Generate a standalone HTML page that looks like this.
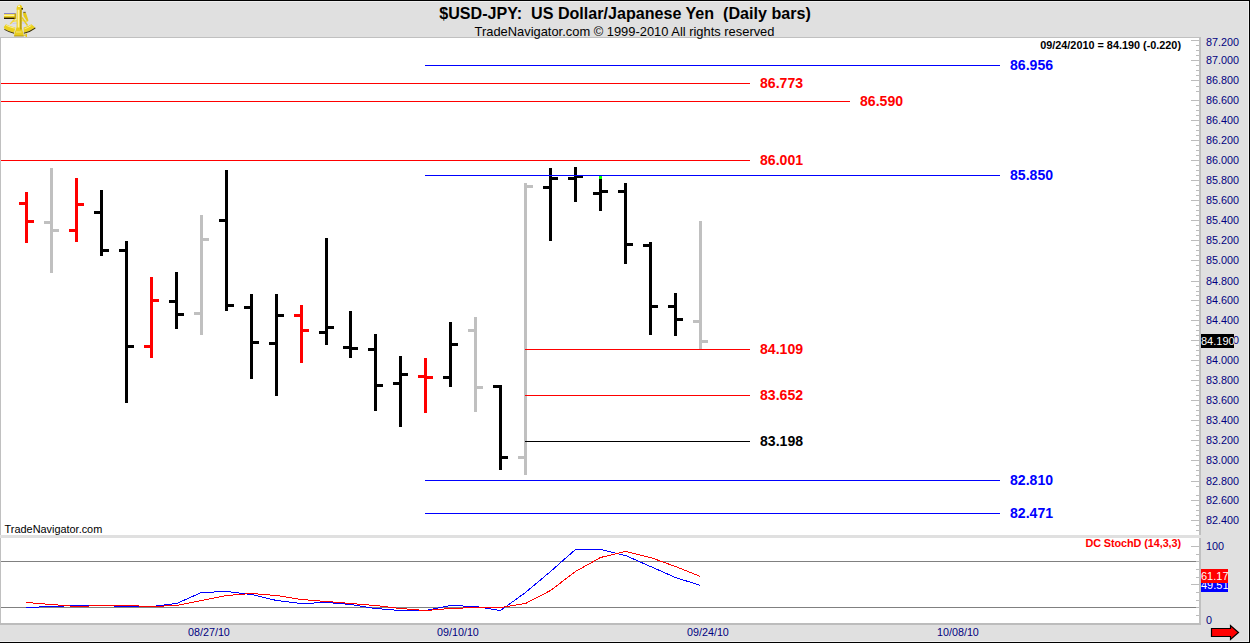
<!DOCTYPE html>
<html><head><meta charset="utf-8"><style>
html,body{margin:0;padding:0;width:1250px;height:643px;overflow:hidden;background:#e0e0e0}
.t{position:absolute;font-family:"Liberation Sans",sans-serif;white-space:pre;line-height:17px}
</style></head><body>
<svg style="position:absolute;left:0;top:0" width="1250" height="643" shape-rendering="crispEdges">
<rect x="0" y="0" width="1250" height="643" fill="#e0e0e0"/>
<rect x="0" y="1" width="1249" height="1" fill="#efefef"/>
<rect x="0" y="641" width="1249" height="1" fill="#efefef"/>
<rect x="1248" y="1" width="1" height="641" fill="#efefef"/>
<rect x="0" y="0" width="1250" height="1" fill="#000"/>
<rect x="0" y="642" width="1250" height="1" fill="#000"/>
<rect x="1249" y="0" width="1" height="643" fill="#000"/>
<rect x="0" y="37" width="1201" height="498" fill="#c0c0c0"/>
<rect x="1" y="38" width="1198" height="497" fill="#ffffff"/>
<rect x="0" y="538" width="1201" height="87" fill="#c0c0c0"/>
<rect x="1" y="538" width="1198" height="85" fill="#ffffff"/>
<rect x="0" y="623" width="1201" height="2" fill="#bcbcbc"/>
<rect x="1191" y="40" width="8" height="1" fill="#bcbcbc"/>
<rect x="1191" y="60" width="8" height="1" fill="#bcbcbc"/>
<rect x="1191" y="80" width="8" height="1" fill="#bcbcbc"/>
<rect x="1191" y="100" width="8" height="1" fill="#bcbcbc"/>
<rect x="1191" y="120" width="8" height="1" fill="#bcbcbc"/>
<rect x="1191" y="140" width="8" height="1" fill="#bcbcbc"/>
<rect x="1191" y="160" width="8" height="1" fill="#bcbcbc"/>
<rect x="1191" y="180" width="8" height="1" fill="#bcbcbc"/>
<rect x="1191" y="200" width="8" height="1" fill="#bcbcbc"/>
<rect x="1191" y="220" width="8" height="1" fill="#bcbcbc"/>
<rect x="1191" y="240" width="8" height="1" fill="#bcbcbc"/>
<rect x="1191" y="260" width="8" height="1" fill="#bcbcbc"/>
<rect x="1191" y="281" width="8" height="1" fill="#bcbcbc"/>
<rect x="1191" y="300" width="8" height="1" fill="#bcbcbc"/>
<rect x="1191" y="320" width="8" height="1" fill="#bcbcbc"/>
<rect x="1191" y="340" width="8" height="1" fill="#bcbcbc"/>
<rect x="1191" y="360" width="8" height="1" fill="#bcbcbc"/>
<rect x="1191" y="380" width="8" height="1" fill="#bcbcbc"/>
<rect x="1191" y="400" width="8" height="1" fill="#bcbcbc"/>
<rect x="1191" y="420" width="8" height="1" fill="#bcbcbc"/>
<rect x="1191" y="440" width="8" height="1" fill="#bcbcbc"/>
<rect x="1191" y="460" width="8" height="1" fill="#bcbcbc"/>
<rect x="1191" y="481" width="8" height="1" fill="#bcbcbc"/>
<rect x="1191" y="500" width="8" height="1" fill="#bcbcbc"/>
<rect x="1191" y="520" width="8" height="1" fill="#bcbcbc"/>
<rect x="1196" y="45" width="3" height="1" fill="#bcbcbc"/>
<rect x="1196" y="50" width="3" height="1" fill="#bcbcbc"/>
<rect x="1196" y="55" width="3" height="1" fill="#bcbcbc"/>
<rect x="1196" y="65" width="3" height="1" fill="#bcbcbc"/>
<rect x="1196" y="70" width="3" height="1" fill="#bcbcbc"/>
<rect x="1196" y="75" width="3" height="1" fill="#bcbcbc"/>
<rect x="1196" y="86" width="3" height="1" fill="#bcbcbc"/>
<rect x="1196" y="91" width="3" height="1" fill="#bcbcbc"/>
<rect x="1196" y="105" width="3" height="1" fill="#bcbcbc"/>
<rect x="1196" y="110" width="3" height="1" fill="#bcbcbc"/>
<rect x="1196" y="115" width="3" height="1" fill="#bcbcbc"/>
<rect x="1196" y="125" width="3" height="1" fill="#bcbcbc"/>
<rect x="1196" y="130" width="3" height="1" fill="#bcbcbc"/>
<rect x="1196" y="135" width="3" height="1" fill="#bcbcbc"/>
<rect x="1196" y="145" width="3" height="1" fill="#bcbcbc"/>
<rect x="1196" y="150" width="3" height="1" fill="#bcbcbc"/>
<rect x="1196" y="155" width="3" height="1" fill="#bcbcbc"/>
<rect x="1196" y="165" width="3" height="1" fill="#bcbcbc"/>
<rect x="1196" y="170" width="3" height="1" fill="#bcbcbc"/>
<rect x="1196" y="175" width="3" height="1" fill="#bcbcbc"/>
<rect x="1196" y="185" width="3" height="1" fill="#bcbcbc"/>
<rect x="1196" y="190" width="3" height="1" fill="#bcbcbc"/>
<rect x="1196" y="195" width="3" height="1" fill="#bcbcbc"/>
<rect x="1196" y="205" width="3" height="1" fill="#bcbcbc"/>
<rect x="1196" y="210" width="3" height="1" fill="#bcbcbc"/>
<rect x="1196" y="215" width="3" height="1" fill="#bcbcbc"/>
<rect x="1196" y="225" width="3" height="1" fill="#bcbcbc"/>
<rect x="1196" y="230" width="3" height="1" fill="#bcbcbc"/>
<rect x="1196" y="235" width="3" height="1" fill="#bcbcbc"/>
<rect x="1196" y="245" width="3" height="1" fill="#bcbcbc"/>
<rect x="1196" y="250" width="3" height="1" fill="#bcbcbc"/>
<rect x="1196" y="255" width="3" height="1" fill="#bcbcbc"/>
<rect x="1196" y="265" width="3" height="1" fill="#bcbcbc"/>
<rect x="1196" y="270" width="3" height="1" fill="#bcbcbc"/>
<rect x="1196" y="275" width="3" height="1" fill="#bcbcbc"/>
<rect x="1196" y="286" width="3" height="1" fill="#bcbcbc"/>
<rect x="1196" y="291" width="3" height="1" fill="#bcbcbc"/>
<rect x="1196" y="295" width="3" height="1" fill="#bcbcbc"/>
<rect x="1196" y="305" width="3" height="1" fill="#bcbcbc"/>
<rect x="1196" y="310" width="3" height="1" fill="#bcbcbc"/>
<rect x="1196" y="315" width="3" height="1" fill="#bcbcbc"/>
<rect x="1196" y="325" width="3" height="1" fill="#bcbcbc"/>
<rect x="1196" y="330" width="3" height="1" fill="#bcbcbc"/>
<rect x="1196" y="335" width="3" height="1" fill="#bcbcbc"/>
<rect x="1196" y="345" width="3" height="1" fill="#bcbcbc"/>
<rect x="1196" y="350" width="3" height="1" fill="#bcbcbc"/>
<rect x="1196" y="355" width="3" height="1" fill="#bcbcbc"/>
<rect x="1196" y="365" width="3" height="1" fill="#bcbcbc"/>
<rect x="1196" y="370" width="3" height="1" fill="#bcbcbc"/>
<rect x="1196" y="375" width="3" height="1" fill="#bcbcbc"/>
<rect x="1196" y="385" width="3" height="1" fill="#bcbcbc"/>
<rect x="1196" y="390" width="3" height="1" fill="#bcbcbc"/>
<rect x="1196" y="395" width="3" height="1" fill="#bcbcbc"/>
<rect x="1196" y="405" width="3" height="1" fill="#bcbcbc"/>
<rect x="1196" y="410" width="3" height="1" fill="#bcbcbc"/>
<rect x="1196" y="415" width="3" height="1" fill="#bcbcbc"/>
<rect x="1196" y="425" width="3" height="1" fill="#bcbcbc"/>
<rect x="1196" y="430" width="3" height="1" fill="#bcbcbc"/>
<rect x="1196" y="435" width="3" height="1" fill="#bcbcbc"/>
<rect x="1196" y="445" width="3" height="1" fill="#bcbcbc"/>
<rect x="1196" y="450" width="3" height="1" fill="#bcbcbc"/>
<rect x="1196" y="455" width="3" height="1" fill="#bcbcbc"/>
<rect x="1196" y="465" width="3" height="1" fill="#bcbcbc"/>
<rect x="1196" y="470" width="3" height="1" fill="#bcbcbc"/>
<rect x="1196" y="475" width="3" height="1" fill="#bcbcbc"/>
<rect x="1196" y="486" width="3" height="1" fill="#bcbcbc"/>
<rect x="1196" y="495" width="3" height="1" fill="#bcbcbc"/>
<rect x="1196" y="505" width="3" height="1" fill="#bcbcbc"/>
<rect x="1196" y="510" width="3" height="1" fill="#bcbcbc"/>
<rect x="1196" y="515" width="3" height="1" fill="#bcbcbc"/>
<rect x="1196" y="525" width="3" height="1" fill="#bcbcbc"/>
<rect x="1196" y="530" width="3" height="1" fill="#bcbcbc"/>
<rect x="1191" y="546" width="8" height="1" fill="#bcbcbc"/>
<rect x="1196" y="554" width="3" height="1" fill="#bcbcbc"/>
<rect x="1196" y="561" width="3" height="1" fill="#bcbcbc"/>
<rect x="1196" y="569" width="3" height="1" fill="#bcbcbc"/>
<rect x="1196" y="577" width="3" height="1" fill="#bcbcbc"/>
<rect x="1191" y="584" width="8" height="1" fill="#bcbcbc"/>
<rect x="1196" y="592" width="3" height="1" fill="#bcbcbc"/>
<rect x="1196" y="600" width="3" height="1" fill="#bcbcbc"/>
<rect x="1196" y="607" width="3" height="1" fill="#bcbcbc"/>
<rect x="1196" y="615" width="3" height="1" fill="#bcbcbc"/>
<rect x="1191" y="623" width="8" height="1" fill="#bcbcbc"/>
<rect x="1" y="561" width="1195" height="1" fill="#808080"/>
<rect x="1" y="607" width="1195" height="1" fill="#808080"/>
<rect x="25" y="192" width="3" height="51" fill="#ff0000"/>
<rect x="19" y="202" width="6" height="3" fill="#ff0000"/>
<rect x="28" y="220" width="6" height="3" fill="#ff0000"/>
<rect x="50" y="168" width="3" height="105" fill="#c0c0c0"/>
<rect x="44" y="221" width="6" height="3" fill="#c0c0c0"/>
<rect x="53" y="229" width="6" height="3" fill="#c0c0c0"/>
<rect x="75" y="178" width="3" height="64" fill="#ff0000"/>
<rect x="69" y="229" width="6" height="3" fill="#ff0000"/>
<rect x="78" y="203" width="6" height="3" fill="#ff0000"/>
<rect x="100" y="190" width="3" height="66" fill="#000000"/>
<rect x="94" y="211" width="6" height="3" fill="#000000"/>
<rect x="103" y="249" width="6" height="3" fill="#000000"/>
<rect x="125" y="241" width="3" height="162" fill="#000000"/>
<rect x="119" y="249" width="6" height="3" fill="#000000"/>
<rect x="128" y="345" width="6" height="3" fill="#000000"/>
<rect x="150" y="277" width="3" height="81" fill="#ff0000"/>
<rect x="144" y="345" width="6" height="3" fill="#ff0000"/>
<rect x="153" y="299" width="6" height="3" fill="#ff0000"/>
<rect x="175" y="272" width="3" height="57" fill="#000000"/>
<rect x="169" y="300" width="6" height="3" fill="#000000"/>
<rect x="178" y="313" width="6" height="3" fill="#000000"/>
<rect x="200" y="215" width="3" height="120" fill="#c0c0c0"/>
<rect x="194" y="312" width="6" height="3" fill="#c0c0c0"/>
<rect x="203" y="238" width="6" height="3" fill="#c0c0c0"/>
<rect x="225" y="170" width="3" height="141" fill="#000000"/>
<rect x="219" y="219" width="6" height="3" fill="#000000"/>
<rect x="228" y="304" width="6" height="3" fill="#000000"/>
<rect x="250" y="294" width="3" height="85" fill="#000000"/>
<rect x="244" y="306" width="6" height="3" fill="#000000"/>
<rect x="253" y="341" width="6" height="3" fill="#000000"/>
<rect x="275" y="294" width="3" height="102" fill="#000000"/>
<rect x="269" y="342" width="6" height="3" fill="#000000"/>
<rect x="278" y="314" width="6" height="3" fill="#000000"/>
<rect x="300" y="305" width="3" height="58" fill="#ff0000"/>
<rect x="294" y="314" width="6" height="3" fill="#ff0000"/>
<rect x="303" y="329" width="6" height="3" fill="#ff0000"/>
<rect x="325" y="238" width="3" height="107" fill="#000000"/>
<rect x="319" y="331" width="6" height="3" fill="#000000"/>
<rect x="328" y="326" width="6" height="3" fill="#000000"/>
<rect x="349" y="311" width="3" height="47" fill="#000000"/>
<rect x="343" y="346" width="6" height="3" fill="#000000"/>
<rect x="352" y="347" width="6" height="3" fill="#000000"/>
<rect x="374" y="334" width="3" height="77" fill="#000000"/>
<rect x="368" y="348" width="6" height="3" fill="#000000"/>
<rect x="377" y="384" width="6" height="3" fill="#000000"/>
<rect x="399" y="356" width="3" height="71" fill="#000000"/>
<rect x="393" y="382" width="6" height="3" fill="#000000"/>
<rect x="402" y="373" width="6" height="3" fill="#000000"/>
<rect x="424" y="358" width="3" height="55" fill="#ff0000"/>
<rect x="418" y="375" width="6" height="3" fill="#ff0000"/>
<rect x="427" y="376" width="6" height="3" fill="#ff0000"/>
<rect x="449" y="322" width="3" height="65" fill="#000000"/>
<rect x="443" y="376" width="6" height="3" fill="#000000"/>
<rect x="452" y="343" width="6" height="3" fill="#000000"/>
<rect x="474" y="317" width="3" height="95" fill="#c0c0c0"/>
<rect x="468" y="329" width="6" height="3" fill="#c0c0c0"/>
<rect x="477" y="386" width="6" height="3" fill="#c0c0c0"/>
<rect x="499" y="385" width="3" height="85" fill="#000000"/>
<rect x="493" y="385" width="6" height="3" fill="#000000"/>
<rect x="502" y="456" width="6" height="3" fill="#000000"/>
<rect x="524" y="183" width="3" height="292" fill="#c0c0c0"/>
<rect x="518" y="456" width="6" height="3" fill="#c0c0c0"/>
<rect x="527" y="185" width="6" height="3" fill="#c0c0c0"/>
<rect x="549" y="168" width="3" height="73" fill="#000000"/>
<rect x="543" y="186" width="6" height="3" fill="#000000"/>
<rect x="552" y="177" width="6" height="3" fill="#000000"/>
<rect x="574" y="167" width="3" height="35" fill="#000000"/>
<rect x="568" y="177" width="6" height="3" fill="#000000"/>
<rect x="577" y="175" width="6" height="3" fill="#000000"/>
<rect x="599" y="176" width="3" height="35" fill="#000000"/>
<rect x="593" y="192" width="6" height="3" fill="#000000"/>
<rect x="602" y="190" width="6" height="3" fill="#000000"/>
<rect x="624" y="183" width="3" height="81" fill="#000000"/>
<rect x="618" y="190" width="6" height="3" fill="#000000"/>
<rect x="627" y="243" width="6" height="3" fill="#000000"/>
<rect x="649" y="242" width="3" height="93" fill="#000000"/>
<rect x="643" y="244" width="6" height="3" fill="#000000"/>
<rect x="652" y="305" width="6" height="3" fill="#000000"/>
<rect x="674" y="293" width="3" height="43" fill="#000000"/>
<rect x="668" y="305" width="6" height="3" fill="#000000"/>
<rect x="677" y="318" width="6" height="3" fill="#000000"/>
<rect x="699" y="221" width="3" height="129" fill="#c0c0c0"/>
<rect x="693" y="320" width="6" height="3" fill="#c0c0c0"/>
<rect x="702" y="340" width="6" height="3" fill="#c0c0c0"/>
<rect x="599" y="176" width="3" height="3" fill="#00ff00"/>
<rect x="425" y="65" width="575" height="1" fill="#0000ff"/>
<rect x="1" y="83" width="749" height="1" fill="#ff0000"/>
<rect x="1" y="101" width="849" height="1" fill="#ff0000"/>
<rect x="1" y="160" width="749" height="1" fill="#ff0000"/>
<rect x="425" y="175" width="575" height="1" fill="#0000ff"/>
<rect x="525" y="349" width="225" height="1" fill="#ff0000"/>
<rect x="525" y="395" width="225" height="1" fill="#ff0000"/>
<rect x="525" y="441" width="225" height="1" fill="#000000"/>
<rect x="425" y="480" width="575" height="1" fill="#0000ff"/>
<rect x="425" y="513" width="575" height="1" fill="#0000ff"/>
<polygon points="1211.5,628.5 1230.5,628.5 1230.5,625.5 1238.5,632.5 1230.5,639.5 1230.5,636.5 1211.5,636.5" fill="#ff0000" stroke="#000" stroke-width="1.2" shape-rendering="auto"/>
<polyline points="26.5,607.5 51.5,606.5 76.5,605.5 101.5,605.5 126.5,606.5 151.5,606.5 176.5,603.5 201.5,592.5 226.5,591.5 251.5,594.5 276.5,600.5 301.5,603.5 326.5,602.5 350.5,604.5 375.5,608.5 400.5,610.5 425.5,610.5 450.5,605.5 475.5,606.5 500.5,610.5 525.5,592.5 550.5,571.5 575.5,549.5 600.5,549.5 625.5,555.5 650.5,566.5 675.5,577.5 700.5,585.5" fill="none" stroke="#0000ff" stroke-width="1"/>
<polyline points="26.5,602.5 51.5,604.5 76.5,606.5 101.5,605.5 126.5,605.5 151.5,606.5 176.5,605.5 201.5,600.5 226.5,595.5 251.5,593.5 276.5,595.5 301.5,599.5 326.5,601.5 350.5,603.5 375.5,605.5 400.5,608.5 425.5,610.5 450.5,608.5 475.5,607.5 500.5,607.5 525.5,603.5 550.5,590.5 575.5,571.5 600.5,557.5 625.5,551.5 650.5,557.5 675.5,566.5 700.5,576.5" fill="none" stroke="#ff0000" stroke-width="1"/>
</svg>
<svg style="position:absolute;left:0;top:0" width="40" height="40" viewBox="0 0 40 40">
<path d="M12,21.6 Q19.5,19.6 27.5,21.4" stroke="#f4dc50" stroke-width="1.3" fill="none"/>
<path d="M12.5,23.6 Q19.5,21.8 27,23.4" stroke="#c4c4ec" stroke-width="0.9" fill="none"/>
<path d="M10.2,24 L14.8,19" stroke="#f0d440" stroke-width="1.3"/>
<path d="M22,17.5 L27.5,25.5" stroke="#e8cc20" stroke-width="1.4"/>
<path d="M23,12.5 L26,13 L28.5,20.5 L27,21.5 L23.5,16 Z" fill="#e4c81a"/>
<rect x="23.3" y="11.8" width="2.4" height="1.2" fill="#7a6a30"/>
<path d="M6,24.2 Q10.5,26.6 15.4,27.4 L14.1,32.8 Q9,31.6 4.5,28.9 L3.8,27 Z" fill="#ead01e"/>
<path d="M23.6,27.6 Q28,26.6 31.4,24.2 L35.2,27.6 Q30,31.4 23.8,32.8 Z" fill="#ead01e"/>
<path d="M4.5,28.9 Q9,31.6 14.1,32.8 L14.1,33.8 Q9,32.6 4.2,29.8 Z" fill="#3a2e00"/>
<path d="M35.2,27.6 Q30,31.4 23.8,32.8 L23.8,33.8 Q30.4,32.4 35.5,28.5 Z" fill="#3a2e00"/>
<path d="M6.2,25.3 Q10.5,27.4 14.8,28.2" stroke="#fff4a0" stroke-width="0.9" fill="none"/>
<path d="M24.5,28.8 Q28.5,27.6 31.4,25.4" stroke="#fff0a0" stroke-width="0.8" fill="none"/>
<rect x="4" y="13" width="11.5" height="1" fill="#8a84c8"/>
<rect x="4" y="14" width="11.5" height="4.6" fill="#ecd020"/>
<rect x="4" y="14.6" width="11.5" height="1.4" fill="#fff4a0"/>
<rect x="4" y="17.6" width="11.5" height="1.4" fill="#2a1c00"/>
<rect x="14.5" y="13.5" width="1.6" height="5.5" fill="#c4a410"/>
<path d="M16.8,9 L21.8,9 L21.6,27.3 L23.2,33 L23.8,36 L14.1,36 L14.6,33 L16.6,27.3 Z" fill="#e9cc1c"/>
<rect x="17.6" y="9.5" width="1.8" height="18" fill="#fff3a0"/>
<rect x="20.4" y="9.5" width="1" height="20" fill="#9c8006"/>
<path d="M16.4,9.6 Q16.8,4.8 19.6,4.8 Q22.4,4.8 22.8,9.6 Z" fill="#e9cc1c"/>
<rect x="18" y="5.5" width="2" height="1.5" fill="#fff8c0"/>
<rect x="21.4" y="8" width="1.6" height="1.6" fill="#3a2e00"/>
<rect x="16" y="31.5" width="5.5" height="1" fill="#f4e480"/>
<rect x="14.1" y="35.6" width="9.7" height="0.8" fill="#a08408"/>
<rect x="23.6" y="34.6" width="2.4" height="1.1" fill="#e0c418"/>
<rect x="25.6" y="33.6" width="1.4" height="3.4" fill="#e0c418"/>
</svg>
<div class="t" style="left:325px;width:600px;text-align:center;top:5px;font-size:16.1px;color:#000;font-weight:bold;">$USD-JPY:&nbsp; US Dollar/Japanese Yen&nbsp; (Daily bars)</div><div class="t" style="left:324.5px;width:600px;text-align:center;top:22.5px;font-size:12.9px;color:#000;font-weight:normal;">TradeNavigator.com © 1999-2010 All rights reserved</div><div class="t" style="right:69px;top:36.5px;font-size:10.85px;color:#000;font-weight:bold;">09/24/2010 = 84.190 (-0.220)</div><div class="t" style="left:4.6px;top:521px;font-size:10.9px;color:#000;font-weight:normal;">TradeNavigator.com</div><div class="t" style="right:69px;top:534.8px;font-size:10.85px;color:#ff0000;font-weight:bold;letter-spacing:-0.08px">DC StochD (14,3,3)</div><div class="t" style="left:1010px;top:56px;font-size:15.3px;color:#0000ff;font-weight:bold;transform:scaleX(0.92);transform-origin:0 0">86.956</div><div class="t" style="left:760px;top:74px;font-size:15.3px;color:#ff0000;font-weight:bold;transform:scaleX(0.92);transform-origin:0 0">86.773</div><div class="t" style="left:860px;top:92px;font-size:15.3px;color:#ff0000;font-weight:bold;transform:scaleX(0.92);transform-origin:0 0">86.590</div><div class="t" style="left:760px;top:151px;font-size:15.3px;color:#ff0000;font-weight:bold;transform:scaleX(0.92);transform-origin:0 0">86.001</div><div class="t" style="left:1010px;top:166px;font-size:15.3px;color:#0000ff;font-weight:bold;transform:scaleX(0.92);transform-origin:0 0">85.850</div><div class="t" style="left:760px;top:340px;font-size:15.3px;color:#ff0000;font-weight:bold;transform:scaleX(0.92);transform-origin:0 0">84.109</div><div class="t" style="left:760px;top:386px;font-size:15.3px;color:#ff0000;font-weight:bold;transform:scaleX(0.92);transform-origin:0 0">83.652</div><div class="t" style="left:760px;top:432px;font-size:15.3px;color:#000000;font-weight:bold;transform:scaleX(0.92);transform-origin:0 0">83.198</div><div class="t" style="left:1010px;top:471px;font-size:15.3px;color:#0000ff;font-weight:bold;transform:scaleX(0.92);transform-origin:0 0">82.810</div><div class="t" style="left:1010px;top:504px;font-size:15.3px;color:#0000ff;font-weight:bold;transform:scaleX(0.92);transform-origin:0 0">82.471</div><div class="t" style="left:1206px;top:34px;font-size:10.8px;color:#000080;font-weight:normal;">87.200</div><div class="t" style="left:1206px;top:52px;font-size:10.8px;color:#000080;font-weight:normal;">87.000</div><div class="t" style="left:1206px;top:72px;font-size:10.8px;color:#000080;font-weight:normal;">86.800</div><div class="t" style="left:1206px;top:92px;font-size:10.8px;color:#000080;font-weight:normal;">86.600</div><div class="t" style="left:1206px;top:112px;font-size:10.8px;color:#000080;font-weight:normal;">86.400</div><div class="t" style="left:1206px;top:132px;font-size:10.8px;color:#000080;font-weight:normal;">86.200</div><div class="t" style="left:1206px;top:152px;font-size:10.8px;color:#000080;font-weight:normal;">86.000</div><div class="t" style="left:1206px;top:172px;font-size:10.8px;color:#000080;font-weight:normal;">85.800</div><div class="t" style="left:1206px;top:192px;font-size:10.8px;color:#000080;font-weight:normal;">85.600</div><div class="t" style="left:1206px;top:212px;font-size:10.8px;color:#000080;font-weight:normal;">85.400</div><div class="t" style="left:1206px;top:232px;font-size:10.8px;color:#000080;font-weight:normal;">85.200</div><div class="t" style="left:1206px;top:252px;font-size:10.8px;color:#000080;font-weight:normal;">85.000</div><div class="t" style="left:1206px;top:273px;font-size:10.8px;color:#000080;font-weight:normal;">84.800</div><div class="t" style="left:1206px;top:292px;font-size:10.8px;color:#000080;font-weight:normal;">84.600</div><div class="t" style="left:1206px;top:312px;font-size:10.8px;color:#000080;font-weight:normal;">84.400</div><div class="t" style="left:1206px;top:332px;font-size:10.8px;color:#000080;font-weight:normal;">84.200</div><div class="t" style="left:1206px;top:352px;font-size:10.8px;color:#000080;font-weight:normal;">84.000</div><div class="t" style="left:1206px;top:372px;font-size:10.8px;color:#000080;font-weight:normal;">83.800</div><div class="t" style="left:1206px;top:392px;font-size:10.8px;color:#000080;font-weight:normal;">83.600</div><div class="t" style="left:1206px;top:412px;font-size:10.8px;color:#000080;font-weight:normal;">83.400</div><div class="t" style="left:1206px;top:432px;font-size:10.8px;color:#000080;font-weight:normal;">83.200</div><div class="t" style="left:1206px;top:452px;font-size:10.8px;color:#000080;font-weight:normal;">83.000</div><div class="t" style="left:1206px;top:473px;font-size:10.8px;color:#000080;font-weight:normal;">82.800</div><div class="t" style="left:1206px;top:492px;font-size:10.8px;color:#000080;font-weight:normal;">82.600</div><div class="t" style="left:1206px;top:512px;font-size:10.8px;color:#000080;font-weight:normal;">82.400</div><div class="t" style="left:1206px;top:538px;font-size:10.8px;color:#000080;font-weight:normal;">100</div><div class="t" style="left:1206px;top:612px;font-size:10.8px;color:#000080;font-weight:normal;">0</div><div class="t" style="left:188px;top:624px;font-size:10.75px;color:#000080;font-weight:normal;">08/27/10</div><div class="t" style="left:437px;top:624px;font-size:10.75px;color:#000080;font-weight:normal;">09/10/10</div><div class="t" style="left:687px;top:624px;font-size:10.75px;color:#000080;font-weight:normal;">09/24/10</div><div class="t" style="left:937px;top:624px;font-size:10.75px;color:#000080;font-weight:normal;">10/08/10</div>
<div style="position:absolute;left:1201px;top:334px;width:33px;height:14px;background:#000"></div><div class="t" style="left:1201px;top:334px;font-size:11px;color:#fff;line-height:14px">84.190</div><div style="position:absolute;left:1201px;top:578px;width:27px;height:14px;background:#0000ff"></div><div class="t" style="left:1201px;top:578px;font-size:11px;color:#fff;line-height:14px">49.51</div><div style="position:absolute;left:1201px;top:569px;width:27px;height:14px;background:#ff0000"></div><div class="t" style="left:1201px;top:569px;font-size:11px;color:#fff;line-height:14px">61.17</div>
</body></html>
